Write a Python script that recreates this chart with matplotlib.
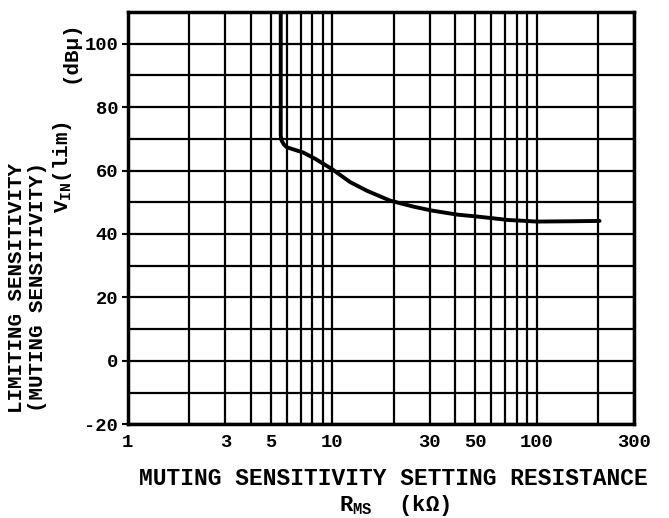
import numpy as np
import matplotlib.pyplot as plt
from matplotlib.ticker import FixedLocator, NullFormatter

# curve: R_MS (kOhm) vs V_IN(lim) (dBu)
r_ms = [5.6, 5.6, 5.65, 5.8, 6.0, 7.2, 8.3, 10, 12.2, 14.8, 19.2, 25, 30.5,
        40.8, 52.6, 72.5, 100, 150, 203]
v_lim = [110, 71, 69.5, 68.2, 67.3, 65.7, 63.6, 60.4, 56.4, 53.6, 50.5,
         48.6, 47.4, 46.1, 45.4, 44.4, 43.9, 44.0, 44.1]

x_ticks = [1, 3, 5, 10, 30, 50, 100, 300]
x_grid = [1, 2, 3, 4, 5, 6, 7, 8, 9, 10, 20, 30, 40, 50, 60, 70, 80, 90,
          100, 200, 300]
y_ticks = [-20, 0, 20, 40, 60, 80, 100]
y_grid = list(range(-20, 111, 10))

font = 'Liberation Mono'
plt.rcParams['font.family'] = [font, 'DejaVu Sans']
plt.rcParams['font.weight'] = 'bold'
plt.rcParams['mathtext.fontset'] = 'custom'
plt.rcParams['mathtext.rm'] = font
plt.rcParams['mathtext.bf'] = font + ':bold'

fig = plt.figure(figsize=(6.69, 5.18), dpi=100)
ax = fig.add_axes([0.191, 0.181, 0.757, 0.796])

ax.set_xscale('log')
ax.set_xlim(1, 300)
ax.set_ylim(-20, 110)

for x in x_grid:
    ax.axvline(x, color='black', lw=1.6, zorder=1)
for y in y_grid:
    ax.axhline(y, color='black', lw=1.6, zorder=1)

ax.plot(r_ms, v_lim, color='black', lw=2.8, solid_capstyle='round', zorder=3)

ax.xaxis.set_major_locator(FixedLocator(x_ticks))
ax.xaxis.set_minor_locator(FixedLocator([]))
ax.set_xticklabels([str(v) for v in x_ticks])
ax.xaxis.set_minor_formatter(NullFormatter())
ax.yaxis.set_major_locator(FixedLocator(y_ticks))
ax.set_yticklabels([str(v) for v in y_ticks])

ax.tick_params(axis='x', length=0, labelsize=13.5, pad=7)
ax.tick_params(axis='y', length=4, width=1.5, direction='out', pad=3,
               labelsize=13.5)
for s in ax.spines.values():
    s.set_linewidth(2.5)

# x axis title, two lines
fig.text(0.588, 0.077, 'MUTING SENSITIVITY SETTING RESISTANCE',
         ha='center', va='center', fontsize=16.5)
fig.text(0.59, 0.024, r'R$_{\mathregular{MS}}$  (k$\Omega$)',
         ha='center', va='center', fontsize=16)

# y axis title, stacked vertical lines
fig.text(0.025, 0.444, 'LIMITING SENSITIVITY', rotation=90,
         ha='center', va='center', fontsize=15)
fig.text(0.056, 0.446, '(MUTING SENSITIVITY)', rotation=90,
         ha='center', va='center', fontsize=15)
fig.text(0.094, 0.678, r'V$_{\mathregular{IN}}$(lim)', rotation=90,
         ha='center', va='center', fontsize=15)
fig.text(0.104, 0.9, '(dB\u03bc)', rotation=90,
         ha='center', va='center', fontsize=15)

# cut-off title at the top edge of the scan
fig.text(0.55, 1.022, '(    )', ha='center', va='center', fontsize=15)

fig.savefig('out.png', dpi=100)
